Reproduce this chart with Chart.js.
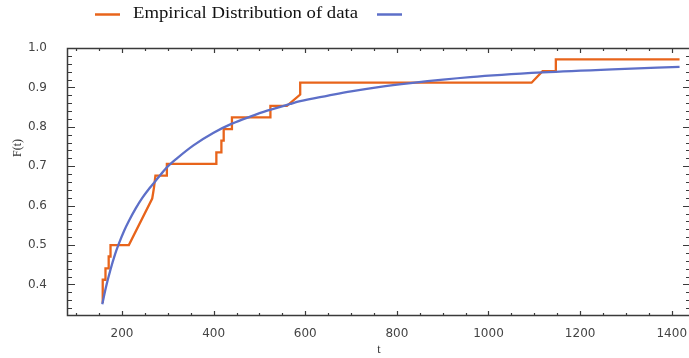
<!DOCTYPE html>
<html>
<head>
<meta charset="utf-8">
<script src="https://cdn.jsdelivr.net/npm/chart.js@4.4.1/dist/chart.umd.min.js"></script>
<style>
  html, body { margin: 0; padding: 0; background: #fff; overflow: hidden; }
  #wrap { width: 693px; height: 358px; }
</style>
</head>
<body>
<div id="wrap"><canvas id="grafica" width="693" height="358"></canvas></div>
<script>
const ecdfT = [158, 158, 164, 164, 171, 171, 175, 175, 215, 266, 268, 270, 273, 298, 298, 406, 406, 417, 417, 422, 422, 440, 440, 524, 524, 560, 589, 589, 1094, 1118, 1147, 1147, 1417]
const ecdfF = [0.353, 0.412, 0.412, 0.441, 0.441, 0.471, 0.471, 0.5, 0.5, 0.618, 0.632, 0.647, 0.676, 0.676, 0.706, 0.706, 0.735, 0.735, 0.765, 0.765, 0.794, 0.794, 0.824, 0.824, 0.853, 0.853, 0.882, 0.912, 0.912, 0.941, 0.941, 0.971, 0.971]

// Curva ajustada
const ajusteT = [157, 165, 175, 185, 193, 205, 215, 230, 244, 260, 277, 298, 320, 356, 400, 440, 480, 517, 567, 589, 650, 700, 760, 830, 960, 1118, 1270, 1417]
const ajusteF = [0.350, 0.393, 0.438, 0.477, 0.503, 0.537, 0.561, 0.593, 0.619, 0.644, 0.668, 0.697, 0.720, 0.753, 0.785, 0.808, 0.826, 0.841, 0.858, 0.865, 0.879, 0.890, 0.901, 0.911, 0.926, 0.938, 0.946, 0.952]

const xTicks = [200, 400, 600, 800, 1000, 1200, 1400]
const yTicks = [0.4, 0.5, 0.6, 0.7, 0.8, 0.9, 1.0]
const etiqueta = 'Empirical Distribution of data'

const naranja = '#e8641b'
const azul = '#5d6fc8'
const marco = '#3a3a3a'
const serif = "'Liberation Serif', 'DejaVu Serif', serif"
const sans = "'DejaVu Sans', sans-serif"

const puntos = (xs, ys) => xs.map((x, i) => ({ x, y: ys[i] }))

// Marco con marcas hacia dentro en los cuatro lados
const marcoTicks = {
  id: 'marcoTicks',
  afterDraw(chart) {
    const { ctx, chartArea: a, scales: { x, y } } = chart
    ctx.save()
    ctx.strokeStyle = marco
    ctx.lineWidth = 1.5
    ctx.strokeRect(a.left + 0.5, a.top + 0.5, a.right - a.left - 1, a.bottom - a.top - 1)
    ctx.lineWidth = 1.2
    ctx.beginPath()
    for (let v = 100; v <= 1440; v += 50) {
      const px = Math.round(x.getPixelForValue(v)) + 0.5
      const len = v % 200 === 0 ? 5 : 3
      ctx.moveTo(px, a.bottom); ctx.lineTo(px, a.bottom - len)
      ctx.moveTo(px, a.top); ctx.lineTo(px, a.top + len)
    }
    for (let k = 17; k <= 50; k++) {
      const v = k / 50
      const py = Math.round(y.getPixelForValue(v)) + 0.5
      const len = k % 5 === 0 ? 8 : 5
      ctx.moveTo(a.left, py); ctx.lineTo(a.left + len, py)
      ctx.moveTo(a.right, py); ctx.lineTo(a.right - len, py)
    }
    ctx.stroke()

    // titulo del eje y
    ctx.fillStyle = '#333'
    ctx.font = '12px ' + serif
    ctx.textAlign = 'center'
    ctx.textBaseline = 'middle'
    ctx.translate(18, 148)
    ctx.rotate(-Math.PI / 2)
    ctx.fillText('F(t)', 0, 0)
    ctx.restore()
  }
}

// Leyenda
const leyenda = {
  id: 'leyenda',
  afterDraw(chart) {
    const ctx = chart.ctx
    ctx.save()
    ctx.lineWidth = 2.5
    ctx.strokeStyle = naranja
    ctx.beginPath(); ctx.moveTo(95, 14.5); ctx.lineTo(120, 14.5); ctx.stroke()
    ctx.strokeStyle = azul
    ctx.beginPath(); ctx.moveTo(377, 14.5); ctx.lineTo(402, 14.5); ctx.stroke()
    ctx.font = '17px ' + serif
    ctx.fillStyle = '#111'
    ctx.textBaseline = 'middle'
    const w = ctx.measureText(etiqueta).width
    ctx.translate(133, 14)
    ctx.scale(225 / w, 1)
    ctx.fillText(etiqueta, 0, 0)
    ctx.restore()
  }
}

new Chart(document.getElementById('grafica'), {
  type: 'scatter',
  data: {
    datasets: [
      {
        label: '',
        data: puntos(ajusteT, ajusteF),
        showLine: true,
        borderColor: azul,
        borderWidth: 2.3,
        pointRadius: 0,
        cubicInterpolationMode: 'monotone'
      },
      {
        label: etiqueta,
        data: puntos(ecdfT, ecdfF),
        showLine: true,
        borderColor: naranja,
        borderWidth: 2.3,
        pointRadius: 0,
        tension: 0
      }
    ]
  },
  options: {
    responsive: false,
    animation: false,
    devicePixelRatio: 1,
    layout: { padding: { top: 48, right: 2, left: 0, bottom: 0 } },
    plugins: { legend: { display: false }, tooltip: { enabled: false } },
    scales: {
      x: {
        type: 'linear',
        min: 80,
        max: 1442,
        grid: { display: false },
        border: { display: false },
        afterBuildTicks: s => { s.ticks = xTicks.map(v => ({ value: v })) },
        afterFit: s => { s.height = 42 },
        ticks: { padding: 3, color: '#444', font: { family: sans, size: 12 }, maxRotation: 0, callback: v => String(v) },
        title: { display: true, text: 't', color: '#333', font: { family: serif, size: 12 }, padding: { top: 0, bottom: 1 } }
      },
      y: {
        min: 0.32,
        max: 1.0,
        grid: { display: false },
        border: { display: false },
        afterBuildTicks: s => { s.ticks = yTicks.map(v => ({ value: v })) },
        afterFit: s => { s.width = 67 },
        ticks: { padding: 12, color: '#444', font: { family: sans, size: 12 }, callback: v => v.toFixed(1) }
      }
    }
  },
  plugins: [marcoTicks, leyenda]
})
</script>
</body>
</html>
